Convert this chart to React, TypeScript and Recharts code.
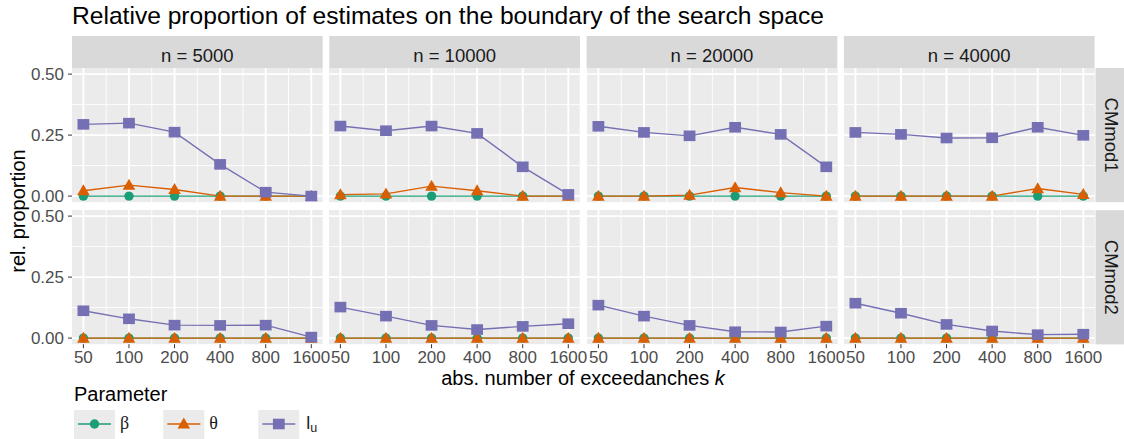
import React from 'react';
import { LineChart, Line, XAxis, YAxis, CartesianGrid } from 'recharts';

// k values on the x axis (log2-spaced), sample sizes (columns) and models (rows)
const kValues = [50, 100, 200, 400, 800, 1600];
const sampleSizes = [5000, 10000, 20000, 40000];
const models = ['CMmod1', 'CMmod2'];
const yTicks = [0, 0.25, 0.5];

// rel. proportion, one row per sample size, one column per k
const betaMod1 = [
  [0, 0, 0, 0, 0, 0],
  [0, 0, 0, 0, 0, 0],
  [0, 0, 0, 0, 0, 0],
  [0, 0, 0, 0, 0, 0],
];
const thetaMod1 = [
  [0.022, 0.045, 0.027, 0, 0, 0],
  [0.006, 0.009, 0.041, 0.022, 0, 0],
  [0, 0, 0.004, 0.035, 0.014, 0],
  [0, 0, 0, 0, 0.031, 0.007],
];
const luMod1 = [
  [0.294, 0.299, 0.262, 0.13, 0.016, 0],
  [0.287, 0.268, 0.287, 0.257, 0.12, 0.007],
  [0.286, 0.261, 0.247, 0.282, 0.253, 0.12],
  [0.261, 0.253, 0.238, 0.239, 0.282, 0.249],
];
const betaMod2 = [
  [0, 0, 0, 0, 0, 0],
  [0, 0, 0, 0, 0, 0],
  [0, 0, 0, 0, 0, 0],
  [0, 0, 0, 0, 0, 0],
];
const thetaMod2 = [
  [0, 0, 0, 0, 0, 0],
  [0, 0, 0, 0, 0, 0],
  [0, 0, 0, 0, 0, 0],
  [0, 0, 0, 0, 0, 0],
];
const luMod2 = [
  [0.112, 0.079, 0.053, 0.052, 0.053, 0.004],
  [0.127, 0.09, 0.052, 0.035, 0.048, 0.059],
  [0.135, 0.09, 0.052, 0.026, 0.025, 0.049],
  [0.143, 0.102, 0.056, 0.029, 0.014, 0.016],
];

const seriesByModel = [
  { beta: betaMod1, theta: thetaMod1, lu: luMod1 },
  { beta: betaMod2, theta: thetaMod2, lu: luMod2 },
];

const BETA = '#1B9E77';
const THETA = '#D95F02';
const LU = '#7570B3';
const FONT = '"Liberation Sans", Arial, Helvetica, sans-serif';

const panelLeft = [72, 329.3, 586.6, 843.9];
const panelW = 250.7;
const rowTop = [68, 210.2];
const panelH = 134.2;
const xAxisH = 30;
const yAxisW = 72;
const padX = 16;
const padY = 10;

function CircleDot(props: any) {
  const { cx, cy, index } = props;
  if (cx == null || cy == null) return <g key={index} />;
  return <circle key={index} cx={cx} cy={cy} r={4.7} fill={BETA} />;
}

function TriangleDot(props: any) {
  const { cx, cy, index } = props;
  if (cx == null || cy == null) return <g key={index} />;
  const pts = `${cx - 6.3},${cy + 4.6} ${cx + 6.3},${cy + 4.6} ${cx},${cy - 6.4}`;
  return <polygon key={index} points={pts} fill={THETA} />;
}

function SquareDot(props: any) {
  const { cx, cy, index } = props;
  if (cx == null || cy == null) return <g key={index} />;
  return <rect key={index} x={cx - 5.9} y={cy - 5.3} width={11.8} height={10.6} fill={LU} />;
}

function Panel({ row, col }: { row: number; col: number }) {
  const s = seriesByModel[row];
  const data = kValues.map((k, i) => ({
    x: Math.log2(k / kValues[0]),
    beta: s.beta[col][i],
    theta: s.theta[col][i],
    lu: s.lu[col][i],
  }));
  const showY = col === 0;
  const showX = row === 1;
  const leftSpace = showY ? yAxisW : padX;
  const width = leftSpace + panelW + padX;
  const height = padY + panelH + (showX ? xAxisH : padY);
  return (
    <div style={{ position: 'absolute', left: panelLeft[col] - leftSpace, top: rowTop[row] - padY }}>
      <LineChart
        width={width}
        height={height}
        data={data}
        margin={{ top: padY, right: padX, bottom: showX ? 0 : padY, left: showY ? 0 : padX }}
      >
        <CartesianGrid
          fill="#EBEBEB"
          stroke="#FFFFFF"
          strokeWidth={0.9}
          horizontalValues={[0.125, 0.375]}
          verticalValues={[0.5, 1.5, 2.5, 3.5, 4.5]}
        />
        <CartesianGrid
          stroke="#FFFFFF"
          strokeWidth={1.9}
          horizontalValues={[0, 0.25, 0.5]}
          verticalValues={[0, 1, 2, 3, 4, 5]}
        />
        <XAxis
          type="number"
          dataKey="x"
          domain={[-0.25, 5.25]}
          ticks={[0, 1, 2, 3, 4, 5]}
          interval={0}
          tickFormatter={(v: number) => String(kValues[Math.round(v)])}
          hide={!showX}
          height={xAxisH}
          axisLine={false}
          tickSize={4}
          tickMargin={3}
          tickLine={{ stroke: '#333333', strokeWidth: 1 }}
          tick={{ fill: '#4D4D4D', fontSize: 17, fontFamily: FONT }}
        />
        <YAxis
          type="number"
          domain={[-0.025, 0.525]}
          ticks={yTicks}
          interval={0}
          tickFormatter={(v: number) => v.toFixed(2)}
          hide={!showY}
          width={yAxisW}
          axisLine={false}
          tickSize={4}
          tickMargin={4}
          tickLine={{ stroke: '#333333', strokeWidth: 1 }}
          tick={{ fill: '#4D4D4D', fontSize: 17, fontFamily: FONT }}
        />
        <Line dataKey="beta" stroke={BETA} strokeWidth={1.4} dot={CircleDot} isAnimationActive={false} />
        <Line dataKey="theta" stroke={THETA} strokeWidth={1.4} dot={TriangleDot} isAnimationActive={false} />
        <Line dataKey="lu" stroke={LU} strokeWidth={1.4} dot={SquareDot} isAnimationActive={false} />
      </LineChart>
    </div>
  );
}

const legendItems = [
  { label: 'β', color: BETA, shape: 'circle', x: 74 },
  { label: 'θ', color: THETA, shape: 'triangle', x: 163.3 },
  { label: 'lu', color: LU, shape: 'square', x: 258.3 },
];

function LegendKey({ item }: { item: (typeof legendItems)[number] }) {
  const cx = item.x + 20.5;
  const cy = 424;
  return (
    <g>
      <rect x={item.x} y={410} width={41} height={29} fill="#EBEBEB" />
      <line x1={item.x + 4} x2={item.x + 37} y1={cy} y2={cy} stroke={item.color} strokeWidth={1.4} />
      {item.shape === 'circle' && <circle cx={cx} cy={cy} r={4.7} fill={item.color} />}
      {item.shape === 'triangle' && (
        <polygon points={`${cx - 6.3},${cy + 4.6} ${cx + 6.3},${cy + 4.6} ${cx},${cy - 6.4}`} fill={item.color} />
      )}
      {item.shape === 'square' && <rect x={cx - 5.9} y={cy - 5.3} width={11.8} height={10.6} fill={item.color} />}
      {item.shape === 'square' ? (
        <text x={item.x + 48} y={429} fontSize={18} fontFamily={FONT} fill="#1A1A1A">
          l<tspan fontSize={12.5} dy={3}>u</tspan>
        </text>
      ) : (
        <text x={item.x + 46} y={429} fontSize={18} fontFamily='"Liberation Serif", "DejaVu Serif", serif' fill="#1A1A1A">
          {item.label}
        </text>
      )}
    </g>
  );
}

export default function App() {
  return (
    <div style={{ position: 'absolute', left: 0, top: 0, width: 1124, height: 439, background: '#FFFFFF', overflow: 'hidden' }}>
      <svg width={1124} height={439} style={{ position: 'absolute', left: 0, top: 0 }}>
        <text x={72} y={24} fontSize={24.6} fontFamily={FONT} fill="#000000">
          Relative proportion of estimates on the boundary of the search space
        </text>
        {sampleSizes.map((n, c) => (
          <g key={n}>
            <rect x={panelLeft[c]} y={36} width={panelW} height={32} fill="#D9D9D9" />
            <text x={panelLeft[c] + panelW / 2} y={61.5} textAnchor="middle" fontSize={18.5} fontFamily={FONT} fill="#1A1A1A">
              n = {n}
            </text>
          </g>
        ))}
        {models.map((m, r) => (
          <g key={m}>
            <rect x={1095.5} y={rowTop[r]} width={31} height={panelH} fill="#D9D9D9" />
            <text
              x={1111}
              y={rowTop[r] + panelH / 2}
              textAnchor="middle"
              dominantBaseline="central"
              transform={`rotate(90, 1111, ${rowTop[r] + panelH / 2})`}
              fontSize={18.5}
              fontFamily={FONT}
              fill="#1A1A1A"
            >
              {m}
            </text>
          </g>
        ))}
        <text
          x={25}
          y={211}
          textAnchor="middle"
          transform="rotate(-90, 25, 211)"
          fontSize={20}
          fontFamily={FONT}
          fill="#000000"
        >
          rel. proportion
        </text>
        <text x={583} y={385} textAnchor="middle" fontSize={20} fontFamily={FONT} fill="#000000">
          abs. number of exceedanches <tspan fontStyle="italic">k</tspan>
        </text>
        <text x={74} y={400.5} fontSize={20} fontFamily={FONT} fill="#000000">
          Parameter
        </text>
        {legendItems.map((it) => (
          <LegendKey key={it.label} item={it} />
        ))}
      </svg>
      {models.map((m, r) => sampleSizes.map((n, c) => <Panel key={`${m}-${n}`} row={r} col={c} />))}
    </div>
  );
}
